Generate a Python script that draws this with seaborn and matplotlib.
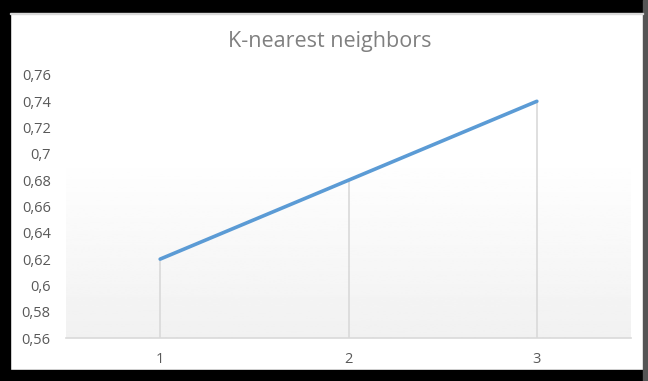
import numpy as np
import pandas as pd
import matplotlib
matplotlib.use("Agg")
import matplotlib.pyplot as plt
import seaborn as sns
from matplotlib.patches import Rectangle

# data
k_values = [1, 2, 3]
accuracy = [0.62, 0.68, 0.74]
y_ticks = [0.56, 0.58, 0.60, 0.62, 0.64, 0.66, 0.68, 0.70, 0.72, 0.74, 0.76]
title = "K-nearest neighbors"

df = pd.DataFrame({"k": k_values, "acc": accuracy})

sns.set_style("white")
plt.rcParams['font.family'] = ['Open Sans', 'DejaVu Sans']

fig = plt.figure(figsize=(6.48, 3.81), dpi=100)
fig.patch.set_facecolor("white")

# black frame of the screenshot
W, H = 648, 381
def px_rect(x0, y0, x1, y1, color):
    fig.patches.append(Rectangle((x0 / W, 1 - y1 / H), (x1 - x0) / W, (y1 - y0) / H,
                                 transform=fig.transFigure, color=color, zorder=0))
px_rect(0, 0, W, 12, "black")
px_rect(0, 0, 10, H, "black")
px_rect(0, 370, W, H, "black")
px_rect(643, 0, W, H, "#555555")
px_rect(10, 13, 643, 14, "#d9d9d9")

ax = fig.add_axes([66 / W, 1 - 338 / H, (631 - 66) / W, (338 - 75) / H])
ax.set_facecolor("white")

# gradient background: white at top, light gray at bottom
grad = np.ones((100, 1))
yy = np.linspace(1, 0, 100)
start = (338 - 155) / (338 - 75)
grad[:, 0] = np.where(yy > start, 1.0, 1.0 - 0.055 * (start - yy) / start)
ax.imshow(grad, cmap="gray", vmin=0, vmax=1, aspect="auto",
          extent=[0.5, 3.5, 0.56, 0.76], zorder=0)

# drop lines
ax.vlines(df["k"], 0.56, df["acc"], color="#d9d9d9", lw=1.2, zorder=1)

sns.lineplot(data=df, x="k", y="acc", ax=ax, color="#5b9bd5", lw=2.6, zorder=3)

ax.set_xlim(0.5, 3.5)
ax.set_ylim(0.56, 0.76)
ax.set_xticks(k_values)
ax.set_xticklabels([str(k) for k in k_values])
ax.set_yticks(y_ticks)
ax.set_yticklabels([str(round(v, 2)).replace(".", ",") for v in y_ticks])
ax.tick_params(axis="both", length=0, labelsize=10.5, labelcolor="#595959")
ax.tick_params(axis="y", pad=11)
ax.tick_params(axis="x", pad=10)
ax.set_xlabel("")
ax.set_ylabel("")
for s in ["top", "right", "left"]:
    ax.spines[s].set_visible(False)
ax.spines["bottom"].set_color("#d9d9d9")
ax.spines["bottom"].set_linewidth(1.2)

fig.text(330 / W, 1 - 42 / H, title, ha="center", va="center",
         fontsize=15.5, color="#808080")

fig.savefig("out.png", dpi=100)
